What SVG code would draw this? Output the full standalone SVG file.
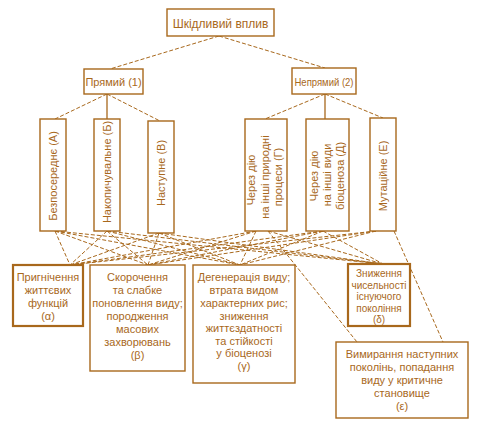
<svg xmlns="http://www.w3.org/2000/svg" width="478" height="427" viewBox="0 0 478 427">
<style>
.b{fill:#fff;stroke:#a8681c;stroke-width:1.4}
.bt{fill:#fff;stroke:#a8681c;stroke-width:2.2}
.t{font-family:"Liberation Sans",Arial,sans-serif;font-size:12px;fill:#a8681c;text-anchor:middle}
.s{font-size:11px}
.x{font-size:10px}
.c line{stroke:#a8681c;stroke-width:1;stroke-dasharray:4 2;fill:none}
.c line.solid{stroke-dasharray:none;stroke-width:1.3}
</style>
<rect width="478" height="427" fill="#fff"/>
<g class="c" id="connectors">
<line x1="219" y1="36" x2="110" y2="69"/>
<line x1="219" y1="36" x2="325" y2="68"/>
<line class="solid" x1="107" y1="94" x2="107" y2="119"/>
<line x1="107" y1="94" x2="55" y2="119"/>
<line x1="107" y1="94" x2="160" y2="121"/>
<line class="solid" x1="325" y1="94" x2="325" y2="119"/>
<line x1="325" y1="94" x2="265" y2="119"/>
<line x1="325" y1="94" x2="383" y2="118"/>
<line x1="55" y1="231" x2="70" y2="265"/>
<line x1="55" y1="231" x2="148" y2="265"/>
<line x1="55" y1="231" x2="240" y2="265"/>
<line x1="55" y1="231" x2="383" y2="264"/>
<line x1="107" y1="231" x2="70" y2="265"/>
<line x1="107" y1="231" x2="148" y2="265"/>
<line x1="107" y1="231" x2="240" y2="265"/>
<line x1="107" y1="231" x2="383" y2="264"/>
<line x1="159" y1="233" x2="70" y2="265"/>
<line x1="159" y1="233" x2="148" y2="265"/>
<line x1="159" y1="233" x2="240" y2="265"/>
<line x1="159" y1="233" x2="383" y2="264"/>
<line x1="256" y1="231" x2="70" y2="265"/>
<line x1="256" y1="231" x2="148" y2="265"/>
<line x1="256" y1="231" x2="240" y2="265"/>
<line x1="268" y1="231" x2="383" y2="264"/>
<line x1="268" y1="231" x2="357" y2="342"/>
<line x1="323" y1="231" x2="70" y2="265"/>
<line x1="323" y1="231" x2="148" y2="265"/>
<line x1="323" y1="231" x2="240" y2="265"/>
<line x1="323" y1="231" x2="383" y2="264"/>
<line x1="376" y1="231" x2="70" y2="265"/>
<line x1="376" y1="231" x2="148" y2="265"/>
<line x1="376" y1="231" x2="240" y2="265"/>
<line x1="394" y1="231" x2="443" y2="342"/>
</g>
<g id="root">
<rect class="b" x="167" y="9" width="107" height="27" stroke-width="1.8"/>
<text class="t" x="220.5" y="27.5">Шкідливий вплив</text>
</g>
<g id="direct">
<rect class="b" x="84" y="69" width="59" height="25"/>
<text class="t s" x="113.5" y="86">Прямий (1)</text>
</g>
<g id="indirect">
<rect class="b" x="292" y="68" width="64" height="26"/>
<text class="t s" x="324" y="86" textLength="59" lengthAdjust="spacingAndGlyphs">Непрямий (2)</text>
</g>
<g id="A">
<rect class="b" x="40" y="119" width="26" height="112"/>
<text class="t s" transform="translate(57,176) rotate(-90)">Безпосереднє (А)</text>
</g>
<g id="B">
<rect class="b" x="94" y="119" width="26" height="112"/>
<text class="t s" transform="translate(111,172) rotate(-90)">Накопичувальне (Б)</text>
</g>
<g id="V">
<rect class="b" x="148" y="121" width="26" height="112"/>
<text class="t s" transform="translate(165,173) rotate(-90)">Наступне (В)</text>
</g>
<g id="G">
<rect class="b" x="245" y="119" width="42" height="112"/>
<text class="t s" transform="translate(255,180) rotate(-90)">Через дію</text>
<text class="t s" transform="translate(269,177) rotate(-90)">на інші природні</text>
<text class="t s" transform="translate(282,177) rotate(-90)">процеси (Г)</text>
</g>
<g id="D">
<rect class="b" x="306" y="119" width="43" height="112"/>
<text class="t s" transform="translate(318,176) rotate(-90)">Через дію</text>
<text class="t s" transform="translate(331,175) rotate(-90)">на інші види</text>
<text class="t s" transform="translate(344,176) rotate(-90)">біоценоза (Д)</text>
</g>
<g id="E">
<rect class="b" x="370" y="118" width="26" height="113"/>
<text class="t s" transform="translate(387,176) rotate(-90)">Мутаційне (Е)</text>
</g>
<g id="alpha">
<rect class="bt" x="13" y="265" width="70" height="61"/>
<text class="t s" x="48" y="281">Пригнічення</text>
<text class="t s" x="48" y="294">життєвих</text>
<text class="t s" x="48" y="307">функцій</text>
<text class="t s" x="48" y="320">(α)</text>
</g>
<g id="beta">
<rect class="b" x="90" y="265" width="95" height="106"/>
<text class="t s" x="137.5" y="281">Скорочення</text>
<text class="t s" x="137.5" y="294">та слабке</text>
<text class="t s" x="137.5" y="307">поновлення виду;</text>
<text class="t s" x="137.5" y="320">породження</text>
<text class="t s" x="137.5" y="333">масових</text>
<text class="t s" x="137.5" y="346">захворювань</text>
<text class="t s" x="137.5" y="359">(β)</text>
</g>
<g id="gamma">
<rect class="b" x="193" y="265" width="102" height="118"/>
<text class="t s" x="244" y="281">Дегенерація виду;</text>
<text class="t s" x="244" y="294">втрата видом</text>
<text class="t s" x="244" y="307">характерних рис;</text>
<text class="t s" x="244" y="319.5">зниження</text>
<text class="t s" x="244" y="332">життєздатності</text>
<text class="t s" x="244" y="344.5">та стійкості</text>
<text class="t s" x="244" y="357">у біоценозі</text>
<text class="t s" x="244" y="369.5">(γ)</text>
</g>
<g id="delta">
<rect class="bt" x="348" y="264" width="62" height="62"/>
<text class="t x" x="379" y="277">Зниження</text>
<text class="t x" x="379" y="288.5">чисельності</text>
<text class="t x" x="379" y="300">існуючого</text>
<text class="t x" x="379" y="311.5">покоління</text>
<text class="t x" x="379" y="323">(δ)</text>
</g>
<g id="epsilon">
<rect class="b" x="336" y="342" width="132" height="76"/>
<text class="t s" x="402" y="358">Вимирання наступних</text>
<text class="t s" x="402" y="371">поколінь, попадання</text>
<text class="t s" x="402" y="384">виду у критичне</text>
<text class="t s" x="402" y="397">становище</text>
<text class="t s" x="402" y="410">(ε)</text>
</g>
</svg>
